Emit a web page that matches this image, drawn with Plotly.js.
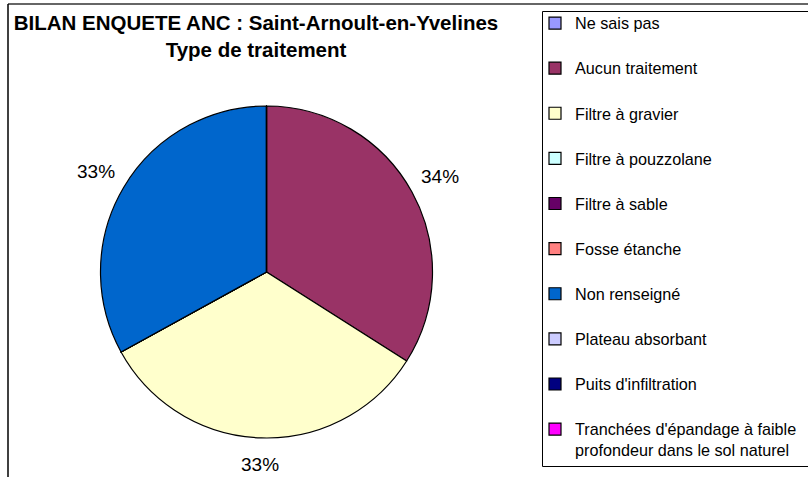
<!DOCTYPE html>
<html>
<head>
<meta charset="utf-8">
<script src="https://cdn.plot.ly/plotly-3.0.1.min.js"></script>
<style>
html,body{margin:0;padding:0;background:#fff;}
#chart{width:808px;height:477px;}
</style>
</head>
<body>
<div id="chart"></div>
<script>
const categories = [
  "Ne sais pas",
  "Aucun traitement",
  "Filtre à gravier",
  "Filtre à pouzzolane",
  "Filtre à sable",
  "Fosse étanche",
  "Non renseigné",
  "Plateau absorbant",
  "Puits d'infiltration",
  "Tranchées d'épandage à faible<br>profondeur dans le sol naturel"
];
const values = [0, 34, 33, 0, 0, 0, 33, 0, 0, 0];
const colors = ["#9999FF","#993366","#FFFFCC","#CCFFFF","#660066","#FF8080","#0066CC","#CCCCFF","#000080","#FF00FF"];

const W = 808, H = 477;
const FONT = "Liberation Sans, Arial, sans-serif";

// pie geometry (pixels)
const CX = 266.5, CY = 272, R = 166;
const LABEL_GAP_V = 192, LABEL_GAP_EXTRA = 7; // label distance: more room sideways for wide text

const total = values.reduce((a, b) => a + b, 0);
// pad single-line legend labels to two lines so entries are evenly spaced
const legendLabels = categories.map(c => c.indexOf("<br>") >= 0 ? c : c + "<br> ");

const trace = {
  type: "pie",
  labels: legendLabels,
  values: values,
  marker: {colors: colors, line: {color: "#000000", width: 1.2}},
  sort: false,
  direction: "clockwise",
  rotation: 0,
  textinfo: "none",
  hoverinfo: "label+percent",
  domain: {x: [(CX - R) / W, (CX + R) / W], y: [(H - CY - R) / H, (H - CY + R) / H]}
};

// percentage labels outside each non-empty slice, along its mid-angle
const annotations = [];
let cum = 0;
values.forEach(v => {
  if (v > 0) {
    const a = 2 * Math.PI * (cum + v / 2) / total;
    const d = LABEL_GAP_V + LABEL_GAP_EXTRA * Math.abs(Math.sin(a));
    annotations.push({
      xref: "paper", yref: "paper",
      x: (CX + d * Math.sin(a)) / W,
      y: (H - (CY - d * Math.cos(a))) / H,
      xanchor: "center", yanchor: "middle",
      text: Math.round(100 * v / total) + "%",
      showarrow: false,
      font: {family: FONT, size: 19, color: "#000"}
    });
  }
  cum += v;
});

const layout = {
  width: W, height: H,
  margin: {l: 0, r: 0, t: 0, b: 0},
  paper_bgcolor: "#ffffff",
  font: {family: FONT, color: "#000"},
  title: {
    text: "<b>BILAN ENQUETE ANC : Saint-Arnoult-en-Yvelines<br>Type de traitement</b>",
    font: {family: FONT, size: 20.5, color: "#000"},
    x: 256 / W, xanchor: "center", xref: "paper",
    y: (H - 30) / H, yanchor: "top", yref: "container"
  },
  showlegend: true,
  legend: {
    x: 535 / W, xanchor: "left",
    y: (H - 6) / H, yanchor: "top",
    borderwidth: 0, bgcolor: "rgba(0,0,0,0)",
    font: {family: FONT, size: 16.2, color: "#000"},
    valign: "top",
    traceorder: "normal"
  },
  annotations: annotations,
  shapes: [
    {type: "line", xref: "paper", yref: "paper", x0: 8 / W, x1: 1, y0: (H - 4) / H, y1: (H - 4) / H, line: {color: "#333", width: 1.5}},
    {type: "line", xref: "paper", yref: "paper", x0: 8 / W, x1: 8 / W, y0: 0, y1: (H - 4) / H, line: {color: "#000", width: 1.5}},
    {type: "rect", xref: "paper", yref: "paper", x0: 542.5 / W, x1: 1.01, y0: (H - 466.5) / H, y1: (H - 11.5) / H, line: {color: "#000", width: 1}, layer: "below"}
  ]
};

Plotly.newPlot("chart", [trace], layout, {displayModeBar: false, staticPlot: true});
</script>
</body>
</html>
